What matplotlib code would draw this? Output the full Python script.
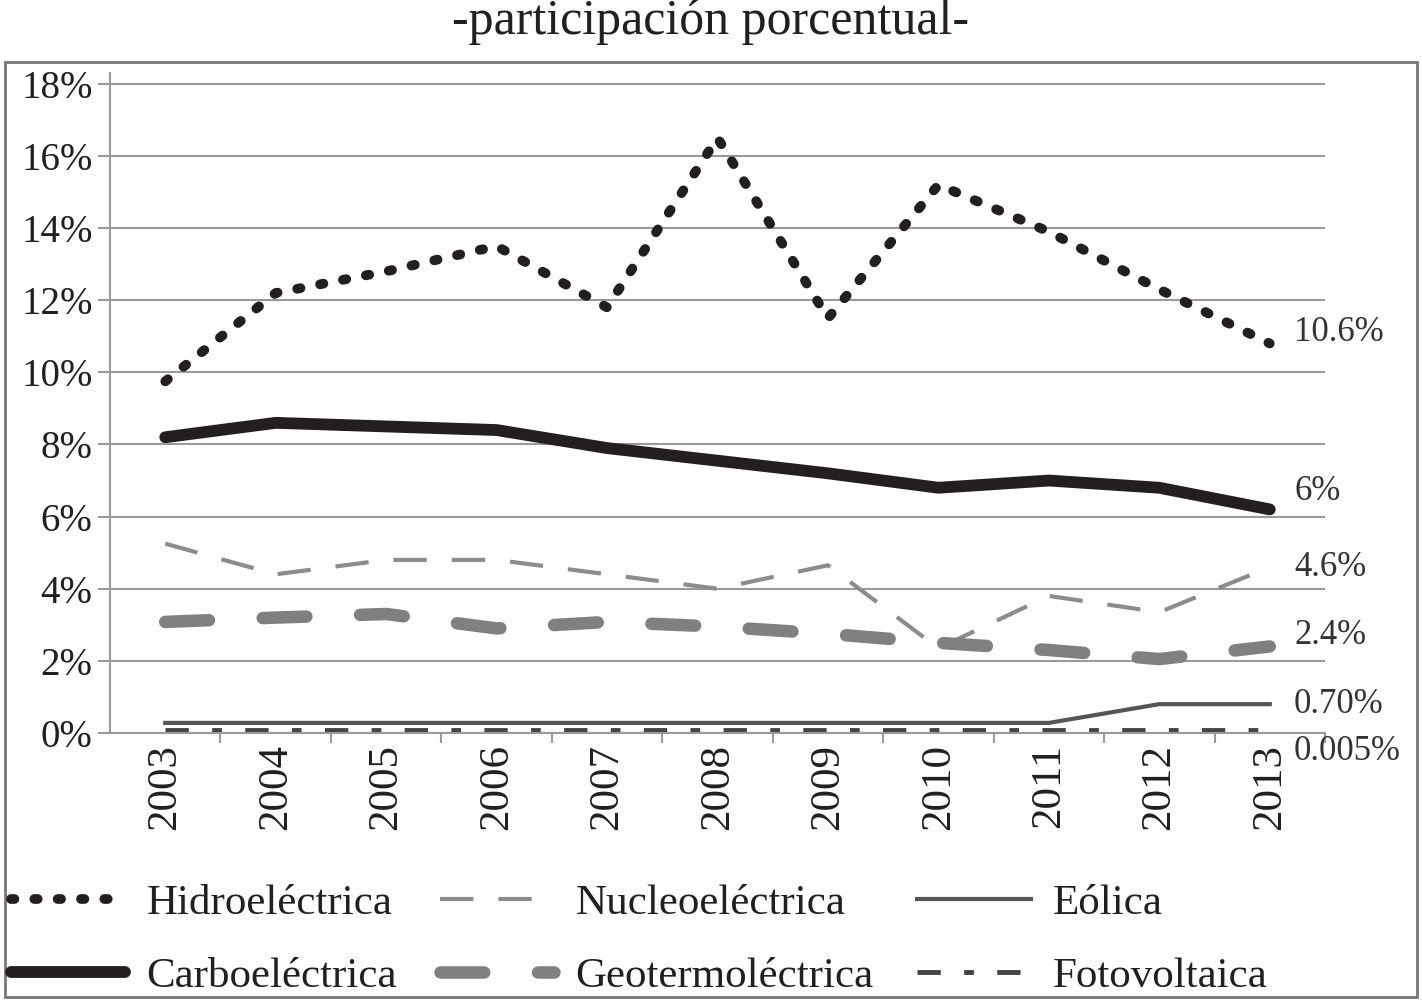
import matplotlib
matplotlib.use('Agg')
from matplotlib import pyplot as plt
from matplotlib.patches import Rectangle

# Data (percent share)
years = ['2003', '2004', '2005', '2006', '2007', '2008', '2009', '2010', '2011', '2012', '2013']
hidro = [9.75, 12.2, 12.8, 13.5, 11.8, 16.5, 11.5, 15.2, 13.9, 12.3, 10.8]
carbo = [8.2, 8.6, 8.5, 8.4, 7.9, 7.55, 7.2, 6.8, 7.0, 6.8, 6.2]
nucleo = [5.25, 4.4, 4.8, 4.8, 4.4, 4.0, 4.65, 2.35, 3.8, 3.35, 4.6]
geo = [3.08, 3.2, 3.3, 2.9, 3.08, 2.95, 2.75, 2.5, 2.3, 2.05, 2.4]
eolica = [0.28, 0.28, 0.28, 0.28, 0.28, 0.28, 0.28, 0.28, 0.28, 0.8, 0.8]
foto = [0.08, 0.08, 0.08, 0.08, 0.08, 0.08, 0.08, 0.08, 0.08, 0.08, 0.08]
end_labels = ['10.6%', '6%', '4.6%', '2.4%', '0.70%', '0.005%']

plt.rcParams['font.family'] = ['Liberation Serif', 'DejaVu Serif']
ink = '#231f20'
grid_gray = '#9a9a9a'

fig = plt.figure(figsize=(14.22, 10.01), dpi=100)
ax = fig.add_axes([110 / 1422, 1 - 733 / 1001, 1215 / 1422, 660 / 1001])

# outer frame
fig.patches.append(Rectangle((5 / 1422, 4 / 1001), 1412 / 1422, 935 / 1001,
                             transform=fig.transFigure, fill=False,
                             edgecolor='#777777', linewidth=2))

fig.text(0.5, 0.978, '-participación porcentual-', ha='center', va='center',
         fontsize=36, color=ink)

x = range(len(years))
ax.plot(x, hidro, color=ink, lw=7, linestyle=(0, (0.35, 2.05)),
        dash_capstyle='round', label='Hidroeléctrica')
ax.plot(x, carbo, color=ink, lw=8.5, solid_capstyle='round',
        label='Carboeléctrica')
ax.plot(x, nucleo, color='#8c8c8c', lw=3, linestyle=(0, (8, 6)),
        label='Nucleoeléctrica')
ax.plot(x, geo, color='#808080', lw=9, linestyle=(0, (3.5, 4.3)),
        dash_capstyle='round', label='Geotermoléctrica')
ax.plot(x, eolica, color='#555555', lw=3, label='Eólica')
ax.plot(x, foto, color='#444444', lw=3.5, linestyle=(0, (4.8, 4.8, 2.0, 4.8)),
        label='Fotovoltaica')

# end labels
label_y = [hidro[-1] + 0.3, carbo[-1] + 0.5, nucleo[-1], geo[-1] + 0.3,
           eolica[-1], -0.5]
for txt, yy in zip(end_labels, label_y):
    ax.text(len(years) - 1 + 0.22, yy, txt, ha='left', va='center',
            fontsize=25, color='#333333', clip_on=False)

ax.set_xlim(-0.5, len(years) - 0.5)
ax.set_ylim(0, 18.3)
ax.set_yticks(range(0, 19, 2))
ax.set_yticklabels([f'{v}%' for v in range(0, 19, 2)])
ax.set_xticks([i + 0.5 for i in range(len(years) - 1)] + [len(years) - 0.5])
ax.set_xticklabels([])
ax.set_xticks(list(x), minor=True)
ax.set_xticklabels(years, minor=True, rotation=90)
ax.tick_params(axis='x', which='major', length=7, width=1.5, color=grid_gray)
ax.tick_params(axis='x', which='minor', length=0, pad=8, labelsize=31,
               labelcolor=ink)
ax.tick_params(axis='y', length=8.5, width=1.5, color=grid_gray, pad=4,
               labelsize=28, labelcolor=ink)
ax.yaxis.grid(True, color=grid_gray, linewidth=1.5)
ax.set_axisbelow(True)
for s in ['top', 'right']:
    ax.spines[s].set_visible(False)
for s in ['left', 'bottom']:
    ax.spines[s].set_color(grid_gray)
    ax.spines[s].set_linewidth(1.5)

handles, labels = ax.get_legend_handles_labels()
fig.legend(handles, labels,
           ncol=3, loc='lower left', bbox_to_anchor=(0.004, 0.0),
           frameon=False, fontsize=31, handlelength=2.65, handletextpad=0.5,
           columnspacing=1.0, labelspacing=0.78, borderaxespad=0.0,
           borderpad=0.12, labelcolor=ink)

fig.savefig('out.png', dpi=100)
